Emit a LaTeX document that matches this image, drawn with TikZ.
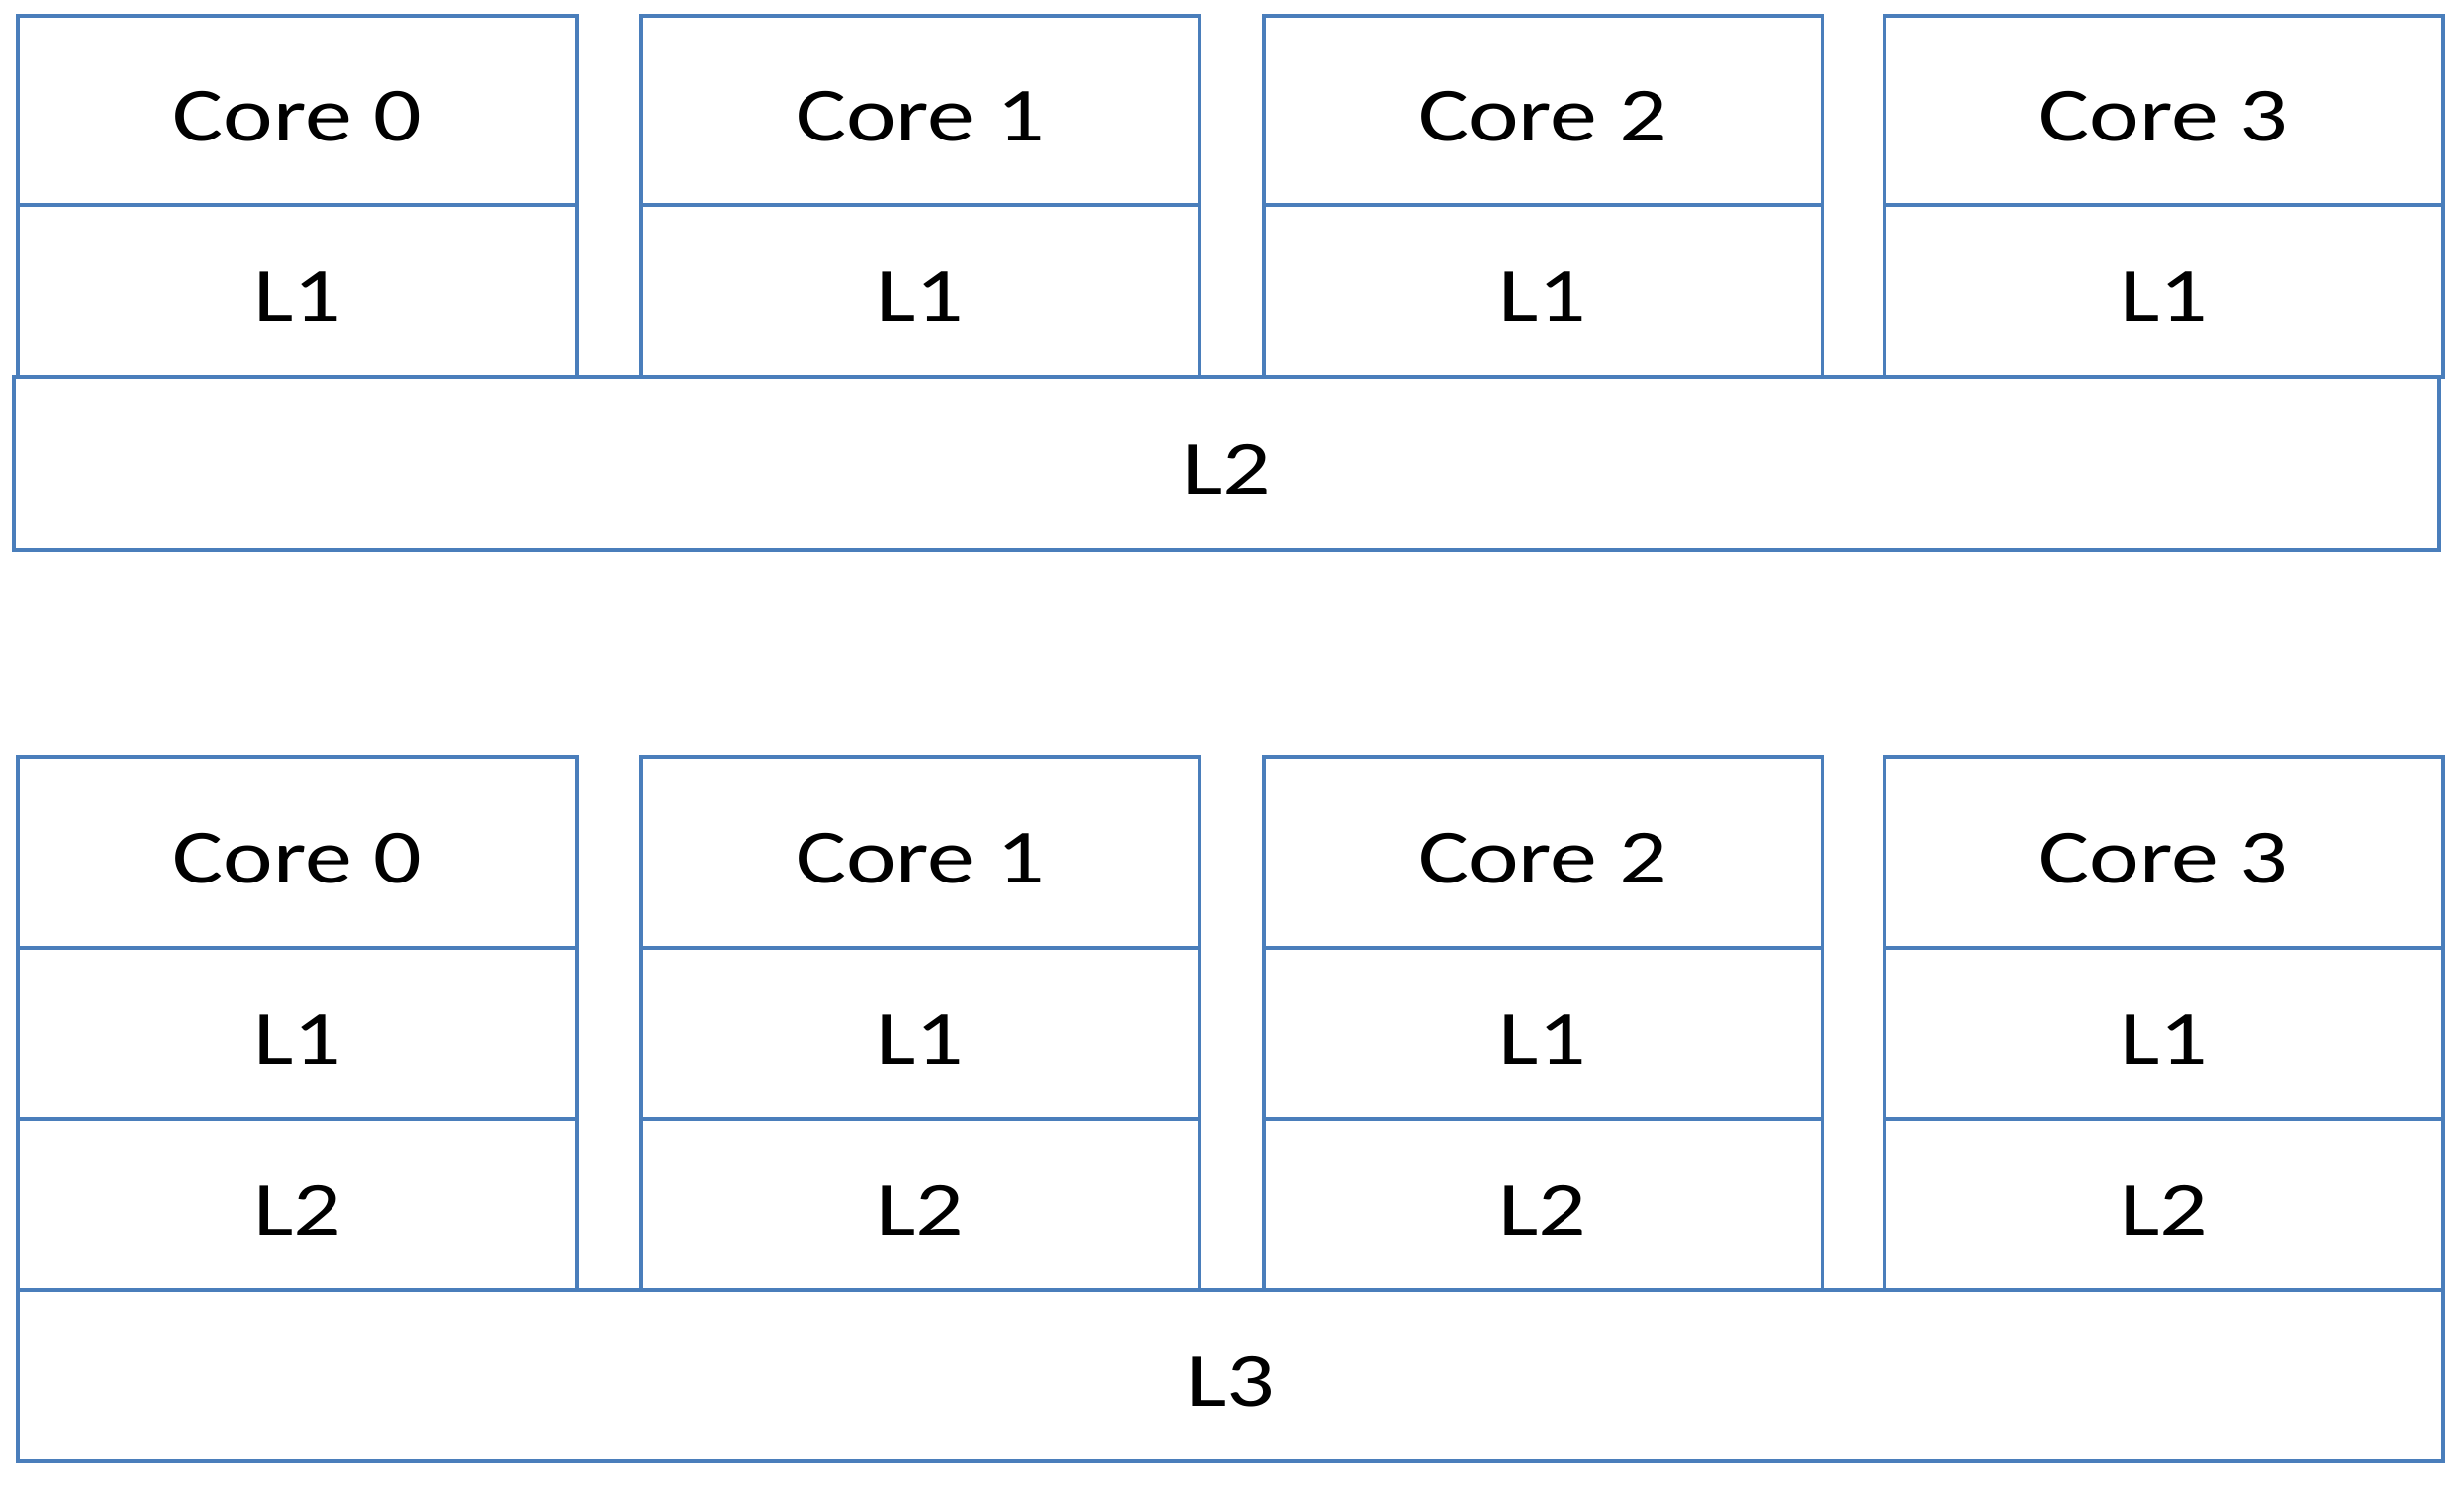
\documentclass[tikz,border=0pt]{standalone}
\usepackage{fontspec}
\setmainfont{Carlito}[FakeStretch=1.24]
\usepackage{tikz}
\usepackage{xcolor}
\definecolor{lineblue}{HTML}{4A7EBB}

\begin{document}
\begin{tikzpicture}[
        cell/.style={rectangle, draw=lineblue, line width=1pt, minimum width=5.645cm,
            inner sep=0pt, outer sep=0pt, text height=0.62cm, text depth=0cm,
            font=\fontsize{22}{26}\selectfont},
        corecell/.style={cell, minimum height=1.91cm},
        cachecell/.style={cell, minimum height=1.74cm},
        sharedcell/.style={cell, minimum width=24.51cm, minimum height=1.74cm}]
        \useasboundingbox (0, 0) rectangle (24.9, -15.02);

        % shared L2
        \node[corecell] at (3.005, -1.115) (ta0) {Core 0};
        \node[corecell] at (9.30, -1.115) (ta1) {Core 1};
        \node[corecell] at (15.59, -1.115) (ta2) {Core 2};
        \node[corecell] at (21.865, -1.115) (ta3) {Core 3};
        \node[cachecell] at (3.005, -2.94) (tb0) {L1};
        \node[cachecell] at (9.30, -2.94) (tb1) {L1};
        \node[cachecell] at (15.59, -2.94) (tb2) {L1};
        \node[cachecell] at (21.865, -2.94) (tb3) {L1};
        \node[sharedcell, minimum height=1.75cm] at (12.395, -4.685) (tl2) {L2};

        % shared L3
        \node[corecell, minimum height=1.93cm] at (3.005, -8.615) (ba0) {Core 0};
        \node[corecell, minimum height=1.93cm] at (9.30, -8.615) (ba1) {Core 1};
        \node[corecell, minimum height=1.93cm] at (15.59, -8.615) (ba2) {Core 2};
        \node[corecell, minimum height=1.93cm] at (21.865, -8.615) (ba3) {Core 3};
        \node[cachecell] at (3.005, -10.445) (bb0) {L1};
        \node[cachecell] at (9.30, -10.445) (bb1) {L1};
        \node[cachecell] at (15.59, -10.445) (bb2) {L1};
        \node[cachecell] at (21.865, -10.445) (bb3) {L1};
        \node[cachecell] at (3.005, -12.175) (bc0) {L2};
        \node[cachecell] at (9.30, -12.175) (bc1) {L2};
        \node[cachecell] at (15.59, -12.175) (bc2) {L2};
        \node[cachecell] at (21.865, -12.175) (bc3) {L2};
        \node[sharedcell, minimum height=1.73cm] at (12.435, -13.905) (bl3) {L3};
    \end{tikzpicture}
\end{document}
